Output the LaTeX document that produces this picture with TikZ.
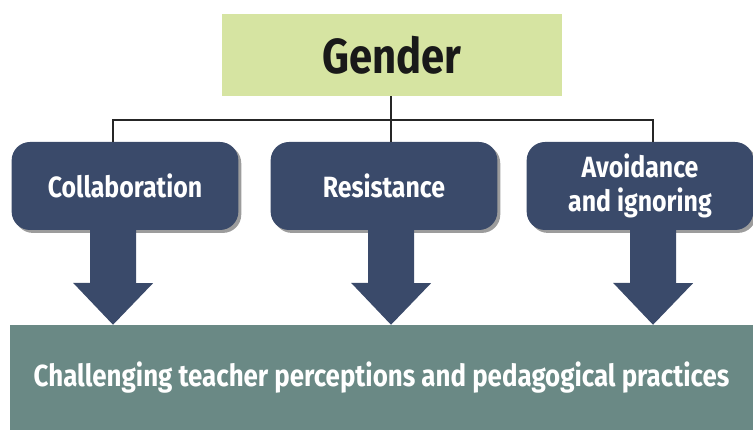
\documentclass[tikz,border=0pt]{standalone}
\usepackage{fontspec}
\setmainfont{Fira Sans}[FakeStretch=0.85]
\usetikzlibrary{shadows,calc}
\definecolor{cgreen}{HTML}{D6E4A2}
\definecolor{cnavy}{HTML}{3A4A6A}
\definecolor{cteal}{HTML}{6A8985}
\definecolor{cshade}{HTML}{9C9C9C}
\tikzset{x=0.03cm,y=-0.03cm,
  topbox/.style={fill=cgreen,minimum width=10.2cm,minimum height=2.46cm,font=\fontsize{42}{46}\selectfont\bfseries,text=black!90},
  actbox/.style={fill=cnavy,rounded corners=0.55cm,minimum width=6.8cm,minimum height=2.64cm,align=center,
    font=\fontsize{25}{29}\selectfont\bfseries,text=white,
    drop shadow={shadow xshift=2.5pt,shadow yshift=-2.5pt,fill=cshade,opacity=1}},
  basebox/.style={fill=cteal,minimum width=22.29cm,minimum height=3.15cm,font=\fontsize{26}{30}\selectfont\bfseries,text=white},
  bus/.style={line width=1.6pt,black!85}}
% fat down arrow from a box to the base box, along a column coordinate
\newcommand{\blkarrow}[3]{%
  \fill[cnavy] ($(#1.south -| #3)+(-23,-3)$) -- ++(46,0) -- ++(0,56) -- ++(17,0)
    -- ($(#2.north -| #3)$) -- ++(-40,-42) -- ++(17,0) -- cycle;}

\begin{document}
\begin{tikzpicture}
\useasboundingbox (0,0) rectangle (753,430);

% ===== top: gender =====
\node[topbox] (gender) at (392,55) {Gender};

% ===== middle: the three responses =====
\node[actbox] (collab) at (125,186) {Collaboration};
\node[actbox] (resist) at (384,186) {Resistance};
\node[actbox] (avoid) at (640,186) {Avoidance\\and ignoring};

% ===== bottom: outcome =====
\node[basebox] (challenge) at (381.5,377.5) {Challenging teacher perceptions and pedagogical practices};

% bus from gender to the three boxes
\coordinate (busL) at (113,120);
\coordinate (busM) at (391,120);
\coordinate (busR) at (653,120);
\draw[bus] (gender.south -| busM) -- (busM);
\draw[bus] (collab.north -| busL) -- (busL) -- (busR) -- (avoid.north -| busR);
\draw[bus] (busM) -- (resist.north -| busM);

% block arrows down to the outcome
\blkarrow{collab}{challenge}{busL}
\blkarrow{resist}{challenge}{busM}
\blkarrow{avoid}{challenge}{busR}

\end{tikzpicture}
\end{document}
